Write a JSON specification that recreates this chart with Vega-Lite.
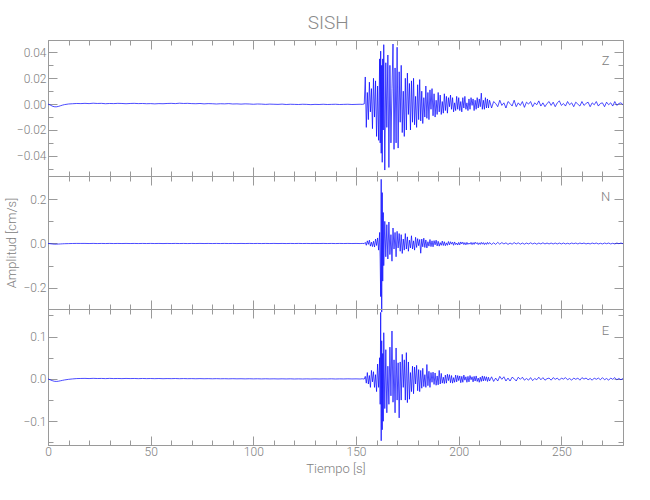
{
"$schema": "https://vega.github.io/schema/vega-lite/v6.json",
"padding": {"left": 5, "top": 13, "right": 5, "bottom": 5},
"bounds": "flush",
"title": {"text": "SISH", "anchor": "middle", "fontSize": 19, "color": "#8a8a8a", "fontWeight": 300, "font": "Roboto", "offset": 7, "dx": 13},
"config": {
  "view": {"stroke": null},
  "font": "Roboto",
  "axis": {"domainColor": "#9a9a9a", "tickColor": "#9a9a9a", "labelColor": "#808080", "titleColor": "#808080", "labelFont": "Roboto", "titleFont": "Roboto", "labelFontWeight": 300, "labelFontSize": 12, "titleFontSize": 13, "titleFontWeight": 300, "grid": false, "labelFlush": false, "domainWidth": 1, "tickWidth": 1}
},
"spacing": 0,
"data": {"values": [
{"t":0,"z":0,"n":0,"e":0},
{"t":1,"z":-0.0006,"n":-0.001,"e":-0.002},
{"t":2,"z":-0.0015,"n":-0.002,"e":-0.004},
{"t":3,"z":-0.002,"n":-0.003,"e":-0.0055},
{"t":4,"z":-0.0021,"n":-0.003,"e":-0.006},
{"t":5,"z":-0.0018,"n":-0.0025,"e":-0.0055},
{"t":6,"z":-0.0013,"n":-0.002,"e":-0.0045},
{"t":7,"z":-0.0008,"n":-0.0015,"e":-0.0035},
{"t":8,"z":-0.0004,"n":-0.001,"e":-0.0025},
{"t":10,"z":0.0001,"n":-0.0005,"e":-0.001},
{"t":12,"z":0.0003,"n":0,"e":0},
{"t":14,"z":0.0005,"n":0.0003,"e":0.0008},
{"t":16,"z":0.0004,"n":0.0002,"e":0.001},
{"t":18,"z":0.0006,"n":0.0003,"e":0.0012},
{"t":20,"z":0.0004,"n":-0.0002,"e":0.0008},
{"t":22,"z":0.0007,"n":0.0004,"e":0.0013},
{"t":24,"z":0.0005,"n":-0.0003,"e":0.0009},
{"t":26,"z":0.0006,"n":0.0002,"e":0.0011},
{"t":28,"z":0.0003,"n":-0.0002,"e":0.0007},
{"t":30,"z":0.0005,"n":0.0003,"e":0.0012},
{"t":32,"z":0.0004,"n":-0.0003,"e":0.0008},
{"t":34,"z":0.0006,"n":0.0002,"e":0.001},
{"t":36,"z":0.0005,"n":-0.0002,"e":0.0007},
{"t":38,"z":0.0003,"n":0.0003,"e":0.0011},
{"t":40,"z":0.0005,"n":-0.0002,"e":0.0008},
{"t":42,"z":0.0006,"n":0.0002,"e":0.001},
{"t":44,"z":0.0004,"n":-0.0003,"e":0.0006},
{"t":46,"z":0.0005,"n":0.0002,"e":0.001},
{"t":48,"z":0.0003,"n":-0.0002,"e":0.0007},
{"t":50,"z":0.0004,"n":0.0003,"e":0.0009},
{"t":52,"z":0.0002,"n":-0.0002,"e":0.0006},
{"t":54,"z":0.0004,"n":0.0002,"e":0.0009},
{"t":56,"z":0.0003,"n":-0.0003,"e":0.0005},
{"t":58,"z":0.0005,"n":0.0002,"e":0.0008},
{"t":60,"z":0.0006,"n":-0.0002,"e":0.0006},
{"t":62,"z":0.0004,"n":0.0003,"e":0.0009},
{"t":64,"z":0.0007,"n":-0.0002,"e":0.0005},
{"t":66,"z":0.0005,"n":0.0002,"e":0.0008},
{"t":68,"z":0.0006,"n":-0.0003,"e":0.0005},
{"t":70,"z":0.0004,"n":0.0002,"e":0.0007},
{"t":72,"z":0.0003,"n":-0.0002,"e":0.0004},
{"t":74,"z":0.0005,"n":0.0003,"e":0.0007},
{"t":76,"z":0.0002,"n":-0.0002,"e":0.0004},
{"t":78,"z":0.0004,"n":0.0002,"e":0.0006},
{"t":80,"z":0.0003,"n":-0.0003,"e":0.0003},
{"t":82,"z":0.0001,"n":0.0002,"e":0.0006},
{"t":84,"z":0.0003,"n":-0.0002,"e":0.0003},
{"t":86,"z":0.0002,"n":0.0003,"e":0.0005},
{"t":88,"z":0.0004,"n":-0.0002,"e":0.0002},
{"t":90,"z":0.0001,"n":0.0002,"e":0.0005},
{"t":92,"z":0.0002,"n":-0.0003,"e":0.0002},
{"t":94,"z":0,"n":0.0002,"e":0.0004},
{"t":96,"z":0.0002,"n":-0.0002,"e":0.0001},
{"t":98,"z":0.0001,"n":0.0003,"e":0.0004},
{"t":100,"z":-0.0001,"n":-0.0002,"e":0.0001},
{"t":102,"z":0.0001,"n":0.0002,"e":0.0003},
{"t":104,"z":0,"n":-0.0003,"e":0},
{"t":106,"z":-0.0002,"n":0.0002,"e":0.0003},
{"t":108,"z":0,"n":-0.0002,"e":0},
{"t":110,"z":-0.0001,"n":0.0003,"e":0.0002},
{"t":112,"z":-0.0002,"n":-0.0002,"e":-0.0001},
{"t":114,"z":0,"n":0.0002,"e":0.0002},
{"t":116,"z":-0.0003,"n":-0.0003,"e":-0.0001},
{"t":118,"z":-0.0001,"n":0.0002,"e":0.0002},
{"t":120,"z":-0.0002,"n":-0.0002,"e":-0.0002},
{"t":122,"z":-0.0003,"n":0.0003,"e":0.0001},
{"t":124,"z":-0.0001,"n":-0.0002,"e":-0.0002},
{"t":126,"z":-0.0002,"n":0.0002,"e":0.0001},
{"t":128,"z":-0.0004,"n":-0.0003,"e":-0.0002},
{"t":130,"z":-0.0002,"n":0.0002,"e":0.0001},
{"t":132,"z":-0.0003,"n":-0.0002,"e":-0.0002},
{"t":134,"z":-0.0001,"n":0.0003,"e":0.0001},
{"t":136,"z":-0.0003,"n":-0.0002,"e":-0.0001},
{"t":138,"z":-0.0002,"n":0.0002,"e":0.0002},
{"t":140,"z":-0.0001,"n":-0.0003,"e":-0.0002},
{"t":142,"z":-0.0003,"n":0.0002,"e":0.0001},
{"t":144,"z":-0.0002,"n":-0.0002,"e":-0.0001},
{"t":146,"z":-0.0001,"n":0.0003,"e":0.0002},
{"t":148,"z":-0.0003,"n":-0.0002,"e":-0.0001},
{"t":150,"z":-0.0002,"n":0.0002,"e":0.0001},
{"t":152,"z":-0.0001,"n":-0.0003,"e":-0.0002},
{"t":153,"z":-0.0002,"n":0.0004,"e":0.0003},
{"t":154,"z":0.0001,"n":-0.0005,"e":-0.0004},
{"t":154.5,"z":0.021,"n":0.005,"e":0.006},
{"t":155,"z":-0.018,"n":-0.008,"e":-0.01},
{"t":155.5,"z":0.009,"n":0.012,"e":0.015},
{"t":156,"z":-0.012,"n":-0.004,"e":-0.012},
{"t":156.5,"z":0.017,"n":0.015,"e":0.008},
{"t":157,"z":-0.006,"n":-0.012,"e":-0.02},
{"t":157.5,"z":0.012,"n":0.006,"e":0.02},
{"t":158,"z":-0.019,"n":-0.014,"e":-0.007},
{"t":158.5,"z":0.02,"n":0.01,"e":0.017},
{"t":159,"z":-0.01,"n":-0.016,"e":-0.02},
{"t":159.5,"z":0.018,"n":0.02,"e":0.01},
{"t":160,"z":-0.025,"n":-0.009,"e":-0.03},
{"t":160.5,"z":0.014,"n":0.025,"e":0.035},
{"t":161,"z":-0.028,"n":-0.03,"e":-0.02},
{"t":161.5,"z":0.035,"n":0.05,"e":0.05},
{"t":161.75,"z":-0.03,"n":-0.07,"e":-0.06},
{"t":162,"z":0.041,"n":-0.24,"e":0.157},
{"t":162.25,"z":-0.038,"n":0.29,"e":-0.146},
{"t":162.5,"z":0.03,"n":-0.31,"e":0.09},
{"t":162.75,"z":-0.045,"n":0.23,"e":-0.12},
{"t":163,"z":0.035,"n":-0.17,"e":0.06},
{"t":163.25,"z":-0.02,"n":0.14,"e":-0.1},
{"t":163.5,"z":0.046,"n":-0.1,"e":0.109},
{"t":164,"z":-0.051,"n":0.1,"e":-0.07},
{"t":164.5,"z":0.032,"n":-0.06,"e":0.069},
{"t":165,"z":-0.018,"n":0.085,"e":-0.08},
{"t":165.5,"z":0.038,"n":-0.07,"e":0.03},
{"t":166,"z":-0.049,"n":0.097,"e":-0.06},
{"t":166.5,"z":0.03,"n":-0.05,"e":0.075},
{"t":167,"z":-0.03,"n":0.04,"e":-0.04},
{"t":167.5,"z":0.012,"n":-0.08,"e":0.113},
{"t":168,"z":0.0465,"n":0.07,"e":-0.055},
{"t":168.5,"z":-0.035,"n":-0.025,"e":0.045},
{"t":169,"z":0.028,"n":0.05,"e":-0.08},
{"t":169.5,"z":-0.03,"n":-0.06,"e":0.073},
{"t":170,"z":0.044,"n":0.055,"e":-0.05},
{"t":170.5,"z":-0.034,"n":-0.02,"e":0.038},
{"t":171,"z":0.025,"n":0.045,"e":-0.092},
{"t":171.5,"z":-0.014,"n":-0.035,"e":0.04},
{"t":172,"z":0.03,"n":0.04,"e":-0.05},
{"t":172.5,"z":-0.022,"n":-0.045,"e":0.058},
{"t":173,"z":0.01,"n":0.02,"e":-0.02},
{"t":173.5,"z":-0.025,"n":-0.03,"e":0.045},
{"t":174,"z":0.02,"n":0.045,"e":-0.05},
{"t":174.5,"z":-0.02,"n":-0.025,"e":0.062},
{"t":175,"z":0.024,"n":0.03,"e":-0.056},
{"t":175.5,"z":-0.008,"n":-0.035,"e":0.04},
{"t":176,"z":0.016,"n":0.015,"e":-0.048},
{"t":176.5,"z":-0.02,"n":-0.02,"e":0.015},
{"t":177,"z":0.018,"n":0.035,"e":-0.03},
{"t":177.5,"z":-0.014,"n":-0.025,"e":0.03},
{"t":178,"z":0.02,"n":0.012,"e":-0.035},
{"t":178.5,"z":-0.016,"n":-0.03,"e":0.028},
{"t":179,"z":0.006,"n":0.028,"e":-0.012},
{"t":179.5,"z":-0.018,"n":-0.018,"e":0.032},
{"t":180,"z":0.015,"n":0.022,"e":-0.028},
{"t":180.5,"z":-0.012,"n":-0.01,"e":0.022},
{"t":181,"z":0.019,"n":0.018,"e":-0.03},
{"t":181.5,"z":-0.013,"n":-0.044,"e":0.02},
{"t":182,"z":0.01,"n":0.02,"e":-0.022},
{"t":182.5,"z":-0.015,"n":-0.015,"e":0.025},
{"t":183,"z":0.005,"n":0.024,"e":-0.018},
{"t":183.5,"z":-0.01,"n":-0.018,"e":0.01},
{"t":184,"z":0.014,"n":0.016,"e":-0.02},
{"t":184.5,"z":-0.011,"n":-0.02,"e":0.034},
{"t":185,"z":0.009,"n":0.008,"e":-0.016},
{"t":185.5,"z":-0.012,"n":-0.012,"e":0.018},
{"t":186,"z":0.011,"n":0.018,"e":-0.02},
{"t":186.5,"z":-0.004,"n":-0.014,"e":0.015},
{"t":187,"z":0.012,"n":0.012,"e":-0.008},
{"t":187.5,"z":-0.009,"n":-0.015,"e":0.016},
{"t":188,"z":0.008,"n":0.013,"e":-0.013},
{"t":188.5,"z":-0.01,"n":-0.006,"e":0.014},
{"t":189,"z":0.003,"n":0.015,"e":-0.015},
{"t":189.5,"z":-0.008,"n":-0.011,"e":0.007},
{"t":190,"z":0.009,"n":0.01,"e":-0.014},
{"t":190.5,"z":-0.006,"n":-0.012,"e":0.02},
{"t":191,"z":0.007,"n":0.004,"e":-0.012},
{"t":191.5,"z":-0.008,"n":-0.008,"e":0.013},
{"t":192,"z":0.002,"n":0.011,"e":-0.01},
{"t":192.5,"z":-0.007,"n":-0.009,"e":0.004},
{"t":193,"z":0.008,"n":0.008,"e":-0.011},
{"t":193.5,"z":-0.005,"n":-0.01,"e":0.009},
{"t":194,"z":0.006,"n":0.003,"e":-0.01},
{"t":194.5,"z":-0.007,"n":-0.008,"e":0.011},
{"t":195,"z":0.005,"n":0.009,"e":-0.004},
{"t":195.5,"z":-0.002,"n":-0.006,"e":0.01},
{"t":196,"z":0.007,"n":0.008,"e":-0.009},
{"t":196.5,"z":-0.004,"n":-0.003,"e":0.008},
{"t":197,"z":0.005,"n":0.006,"e":-0.01},
{"t":197.5,"z":-0.006,"n":-0.008,"e":0.003},
{"t":198,"z":0.001,"n":0.007,"e":-0.008},
{"t":198.5,"z":-0.005,"n":-0.005,"e":0.009},
{"t":199,"z":0.006,"n":0.002,"e":-0.007},
{"t":199.5,"z":-0.004,"n":-0.007,"e":0.008},
{"t":200,"z":0.005,"n":0.005,"e":-0.004},
{"t":200.5,"z":-0.005,"n":-0.006,"e":0.007},
{"t":201,"z":0.002,"n":0.007,"e":-0.009},
{"t":201.5,"z":-0.006,"n":-0.002,"e":0.006},
{"t":202,"z":0.005,"n":0.006,"e":-0.008},
{"t":202.5,"z":-0.003,"n":-0.005,"e":0.009},
{"t":203,"z":0.006,"n":0.004,"e":-0.003},
{"t":203.5,"z":-0.004,"n":-0.006,"e":0.005},
{"t":204,"z":0.001,"n":0.005,"e":-0.008},
{"t":204.5,"z":-0.005,"n":-0.004,"e":0.006},
{"t":205,"z":0.004,"n":0.002,"e":-0.007},
{"t":205.5,"z":-0.004,"n":-0.003,"e":0.008},
{"t":206,"z":0.005,"n":0.005,"e":-0.002},
{"t":206.5,"z":-0.001,"n":-0.005,"e":0.005},
{"t":207,"z":0.004,"n":0.004,"e":-0.007},
{"t":207.5,"z":-0.005,"n":-0.004,"e":0.006},
{"t":208,"z":0.003,"n":0.006,"e":-0.005},
{"t":208.5,"z":-0.004,"n":-0.001,"e":0.007},
{"t":209,"z":0.005,"n":0.004,"e":-0.006},
{"t":209.5,"z":-0.003,"n":-0.005,"e":0.002},
{"t":210,"z":0.004,"n":0.003,"e":-0.008},
{"t":210.5,"z":-0.002,"n":-0.004,"e":0.004},
{"t":211,"z":0.0085,"n":0.005,"e":-0.006},
{"t":211.5,"z":-0.004,"n":-0.003,"e":0.007},
{"t":212,"z":0.003,"n":0.004,"e":-0.005},
{"t":212.5,"z":-0.004,"n":-0.005,"e":0.006},
{"t":213,"z":0.005,"n":0.003,"e":-0.004},
{"t":213.5,"z":-0.003,"n":-0.004,"e":0.005},
{"t":214,"z":0.004,"n":0.005,"e":-0.006},
{"t":214.5,"z":-0.003,"n":-0.003,"e":0.004},
{"t":215,"z":0.003,"n":0.004,"e":-0.005},
{"t":216,"z":-0.003,"n":-0.004,"e":0.005},
{"t":217,"z":0.002,"n":0.003,"e":-0.006},
{"t":218,"z":0.0005,"n":-0.004,"e":0.002},
{"t":219,"z":-0.002,"n":0.005,"e":-0.005},
{"t":220,"z":0.003,"n":-0.003,"e":0.006},
{"t":221,"z":-0.001,"n":0.004,"e":-0.001},
{"t":222,"z":0.001,"n":-0.002,"e":0.005},
{"t":223,"z":-0.003,"n":0.003,"e":-0.005},
{"t":224,"z":0.002,"n":-0.004,"e":0.002},
{"t":225,"z":0.0005,"n":0.002,"e":-0.005},
{"t":226,"z":-0.0015,"n":-0.003,"e":0.004},
{"t":227,"z":0.003,"n":0.004,"e":0.0005},
{"t":228,"z":-0.002,"n":-0.002,"e":-0.005},
{"t":229,"z":0.001,"n":0.003,"e":0.004},
{"t":230,"z":-0.001,"n":-0.003,"e":-0.001},
{"t":231,"z":0.002,"n":0.002,"e":0.004},
{"t":232,"z":-0.0025,"n":-0.003,"e":-0.003},
{"t":233,"z":0.0015,"n":0.002,"e":0.001},
{"t":234,"z":0,"n":-0.002,"e":-0.003},
{"t":235,"z":0.002,"n":0.003,"e":0.003},
{"t":236,"z":-0.002,"n":-0.002,"e":-0.004},
{"t":237,"z":0.001,"n":0.002,"e":0.001},
{"t":238,"z":-0.0005,"n":-0.003,"e":-0.002},
{"t":239,"z":0.0025,"n":0.002,"e":0.004},
{"t":240,"z":-0.0015,"n":-0.002,"e":-0.002},
{"t":241,"z":0.001,"n":0.003,"e":0.003},
{"t":242,"z":-0.002,"n":-0.002,"e":-0.003},
{"t":243,"z":0.0005,"n":0.002,"e":0.0005},
{"t":244,"z":0.002,"n":-0.002,"e":0.002},
{"t":245,"z":-0.001,"n":0.002,"e":-0.003},
{"t":246,"z":0.0015,"n":-0.002,"e":0.003},
{"t":247,"z":-0.002,"n":0.002,"e":-0.001},
{"t":248,"z":0.001,"n":-0.002,"e":0.002},
{"t":249,"z":0.0025,"n":0.002,"e":-0.003},
{"t":250,"z":-0.001,"n":-0.002,"e":0.002},
{"t":251,"z":0.0005,"n":0.002,"e":-0.0005},
{"t":252,"z":-0.0015,"n":-0.002,"e":0.003},
{"t":253,"z":0.002,"n":0.001,"e":-0.002},
{"t":254,"z":-0.0005,"n":-0.002,"e":0.001},
{"t":255,"z":0.001,"n":0.002,"e":-0.003},
{"t":256,"z":-0.002,"n":-0.001,"e":0.002},
{"t":257,"z":0.0015,"n":0.002,"e":-0.001},
{"t":258,"z":0,"n":-0.002,"e":0.002},
{"t":259,"z":-0.0015,"n":0.002,"e":-0.003},
{"t":260,"z":0.002,"n":-0.001,"e":0.003},
{"t":261,"z":-0.001,"n":0.002,"e":-0.0005},
{"t":262,"z":0.0005,"n":-0.002,"e":0.002},
{"t":263,"z":0.0015,"n":0.001,"e":-0.002},
{"t":264,"z":-0.002,"n":-0.002,"e":0.001},
{"t":265,"z":0.001,"n":0.002,"e":-0.003},
{"t":266,"z":-0.0005,"n":-0.001,"e":0.002},
{"t":267,"z":0.002,"n":0.002,"e":-0.001},
{"t":268,"z":-0.0015,"n":-0.002,"e":0.002},
{"t":269,"z":0.0005,"n":0.001,"e":-0.002},
{"t":270,"z":0.001,"n":-0.002,"e":0.003},
{"t":271,"z":-0.002,"n":0.002,"e":-0.002},
{"t":272,"z":0.0015,"n":-0.001,"e":0.001},
{"t":273,"z":-0.0005,"n":0.002,"e":-0.003},
{"t":274,"z":0.001,"n":-0.002,"e":0.002},
{"t":275,"z":-0.0015,"n":0.001,"e":-0.001},
{"t":276,"z":0.002,"n":-0.002,"e":0.003},
{"t":277,"z":-0.001,"n":0.002,"e":-0.002},
{"t":278,"z":0.0005,"n":-0.001,"e":0.001},
{"t":279,"z":0.001,"n":0.002,"e":-0.002},
{"t":280,"z":-0.0005,"n":-0.001,"e":0.001}
]},
"vconcat": [
{
 "width": 575, "height": 136,
 "layer": [
  {"mark": {"type": "line", "color": "#0000ff", "strokeWidth": 0.7, "clip": false},
   "encoding": {
    "x": {"field": "t", "type": "quantitative", "scale": {"domain": [0, 280], "nice": false, "zero": false},
      "axis": {"orient": "bottom", "values": [0, 50, 100, 150, 200, 250], "labels": false, "tickSize": -9, "title": null}},
    "y": {"field": "z", "type": "quantitative", "scale": {"domain": [-0.0556, 0.0496], "nice": false, "zero": false},
      "axis": {"orient": "left", "values": [-0.04, -0.02, 0, 0.02, 0.04], "format": ".2f", "tickSize": -9, "labelPadding": 11, "title": null}}
   }},
  {"data": {"values": [{}]},
   "mark": {"type": "text", "fontSize": 13, "fontWeight": 300, "color": "#808080"},
   "encoding": {
    "text": {"value": "Z"},
    "x": {"datum": 271.5, "type": "quantitative", "scale": {"domain": [0, 280], "nice": false, "zero": false},
      "axis": {"orient": "top", "values": [0, 50, 100, 150, 200, 250], "labels": false, "tickSize": -9, "title": null}},
    "y": {"datum": 0.033, "type": "quantitative", "scale": {"domain": [-0.0556, 0.0496], "nice": false, "zero": false},
      "axis": {"orient": "right", "values": [-0.04, -0.02, 0, 0.02, 0.04], "labels": false, "tickSize": -9, "title": null}}
   }},
  {"data": {"values": [{}]},
   "mark": {"type": "point", "opacity": 0, "size": 1},
   "encoding": {
    "x": {"datum": 0, "type": "quantitative", "scale": {"domain": [0, 280], "nice": false, "zero": false},
      "axis": {"orient": "bottom", "values": [10,20,30,40,60,70,80,90,110,120,130,140,160,170,180,190,210,220,230,240,260,270], "labels": false, "tickSize": -5, "title": null}},
    "y": {"datum": 0, "type": "quantitative", "scale": {"domain": [-0.0556, 0.0496], "nice": false, "zero": false},
      "axis": {"orient": "left", "values": [-0.05, -0.03, -0.01, 0.01, 0.03], "labels": false, "tickSize": -5, "title": null}}
   }},
  {"data": {"values": [{}]},
   "mark": {"type": "point", "opacity": 0, "size": 1},
   "encoding": {
    "x": {"datum": 0, "type": "quantitative", "scale": {"domain": [0, 280], "nice": false, "zero": false},
      "axis": {"orient": "top", "values": [10,20,30,40,60,70,80,90,110,120,130,140,160,170,180,190,210,220,230,240,260,270], "labels": false, "tickSize": -5, "title": null}},
    "y": {"datum": 0, "type": "quantitative", "scale": {"domain": [-0.0556, 0.0496], "nice": false, "zero": false},
      "axis": {"orient": "right", "values": [-0.05, -0.03, -0.01, 0.01, 0.03], "labels": false, "tickSize": -5, "title": null}}
   }}
 ],
 "resolve": {"axis": {"x": "independent", "y": "independent"}}
},
{
 "width": 575, "height": 133,
 "layer": [
  {"mark": {"type": "line", "color": "#0000ff", "strokeWidth": 0.7, "clip": false},
   "encoding": {
    "x": {"field": "t", "type": "quantitative", "scale": {"domain": [0, 280], "nice": false, "zero": false},
      "axis": {"orient": "bottom", "values": [0, 50, 100, 150, 200, 250], "labels": false, "tickSize": -9, "title": null}},
    "y": {"field": "n", "type": "quantitative", "scale": {"domain": [-0.296, 0.305], "nice": false, "zero": false},
      "axis": {"orient": "left", "values": [-0.2, 0, 0.2], "format": ".1f", "tickSize": -9, "labelPadding": 11, "title": "Amplitud  [cm/s]", "titlePadding": 4}}
   }},
  {"data": {"values": [{}]},
   "mark": {"type": "text", "fontSize": 13, "fontWeight": 300, "color": "#808080"},
   "encoding": {
    "text": {"value": "N"},
    "x": {"datum": 271.5, "type": "quantitative", "scale": {"domain": [0, 280], "nice": false, "zero": false},
      "axis": {"orient": "top", "values": [0, 50, 100, 150, 200, 250], "labels": false, "tickSize": -9, "title": null}},
    "y": {"datum": 0.209, "type": "quantitative", "scale": {"domain": [-0.296, 0.305], "nice": false, "zero": false},
      "axis": {"orient": "right", "values": [-0.2, 0, 0.2], "labels": false, "tickSize": -9, "title": null}}
   }},
  {"data": {"values": [{}]},
   "mark": {"type": "point", "opacity": 0, "size": 1},
   "encoding": {
    "x": {"datum": 0, "type": "quantitative", "scale": {"domain": [0, 280], "nice": false, "zero": false},
      "axis": {"orient": "bottom", "values": [10,20,30,40,60,70,80,90,110,120,130,140,160,170,180,190,210,220,230,240,260,270], "labels": false, "tickSize": -5, "title": null}},
    "y": {"datum": 0, "type": "quantitative", "scale": {"domain": [-0.296, 0.305], "nice": false, "zero": false},
      "axis": {"orient": "left", "values": [-0.1, 0.1], "labels": false, "tickSize": -5, "title": null}}
   }},
  {"data": {"values": [{}]},
   "mark": {"type": "point", "opacity": 0, "size": 1},
   "encoding": {
    "x": {"datum": 0, "type": "quantitative", "scale": {"domain": [0, 280], "nice": false, "zero": false},
      "axis": {"orient": "top", "values": [10,20,30,40,60,70,80,90,110,120,130,140,160,170,180,190,210,220,230,240,260,270], "labels": false, "tickSize": -5, "title": null}},
    "y": {"datum": 0, "type": "quantitative", "scale": {"domain": [-0.296, 0.305], "nice": false, "zero": false},
      "axis": {"orient": "right", "values": [-0.1, 0.1], "labels": false, "tickSize": -5, "title": null}}
   }}
 ],
 "resolve": {"axis": {"x": "independent", "y": "independent"}}
},
{
 "width": 575, "height": 136,
 "layer": [
  {"mark": {"type": "line", "color": "#0000ff", "strokeWidth": 0.7, "clip": false},
   "encoding": {
    "x": {"field": "t", "type": "quantitative", "scale": {"domain": [0, 280], "nice": false, "zero": false},
      "axis": {"orient": "bottom", "values": [0, 50, 100, 150, 200, 250], "format": "d", "tickSize": -9, "labelPadding": 10, "title": "Tiempo  [s]", "titlePadding": 5}},
    "y": {"field": "e", "type": "quantitative", "scale": {"domain": [-0.156, 0.165], "nice": false, "zero": false},
      "axis": {"orient": "left", "values": [-0.1, 0, 0.1], "format": ".1f", "tickSize": -9, "labelPadding": 11, "title": null}}
   }},
  {"data": {"values": [{}]},
   "mark": {"type": "text", "fontSize": 13, "fontWeight": 300, "color": "#808080"},
   "encoding": {
    "text": {"value": "E"},
    "x": {"datum": 271.5, "type": "quantitative", "scale": {"domain": [0, 280], "nice": false, "zero": false},
      "axis": {"orient": "top", "values": [0, 50, 100, 150, 200, 250], "labels": false, "tickSize": -9, "title": null}},
    "y": {"datum": 0.113, "type": "quantitative", "scale": {"domain": [-0.156, 0.165], "nice": false, "zero": false},
      "axis": {"orient": "right", "values": [-0.1, 0, 0.1], "labels": false, "tickSize": -9, "title": null}}
   }},
  {"data": {"values": [{}]},
   "mark": {"type": "point", "opacity": 0, "size": 1},
   "encoding": {
    "x": {"datum": 0, "type": "quantitative", "scale": {"domain": [0, 280], "nice": false, "zero": false},
      "axis": {"orient": "bottom", "values": [10,20,30,40,60,70,80,90,110,120,130,140,160,170,180,190,210,220,230,240,260,270], "labels": false, "tickSize": -5, "title": null}},
    "y": {"datum": 0, "type": "quantitative", "scale": {"domain": [-0.156, 0.165], "nice": false, "zero": false},
      "axis": {"orient": "left", "values": [-0.15, -0.05, 0.05, 0.15], "labels": false, "tickSize": -5, "title": null}}
   }},
  {"data": {"values": [{}]},
   "mark": {"type": "point", "opacity": 0, "size": 1},
   "encoding": {
    "x": {"datum": 0, "type": "quantitative", "scale": {"domain": [0, 280], "nice": false, "zero": false},
      "axis": {"orient": "top", "values": [10,20,30,40,60,70,80,90,110,120,130,140,160,170,180,190,210,220,230,240,260,270], "labels": false, "tickSize": -5, "title": null}},
    "y": {"datum": 0, "type": "quantitative", "scale": {"domain": [-0.156, 0.165], "nice": false, "zero": false},
      "axis": {"orient": "right", "values": [-0.15, -0.05, 0.05, 0.15], "labels": false, "tickSize": -5, "title": null}}
   }}
 ],
 "resolve": {"axis": {"x": "independent", "y": "independent"}}
}
]
}
